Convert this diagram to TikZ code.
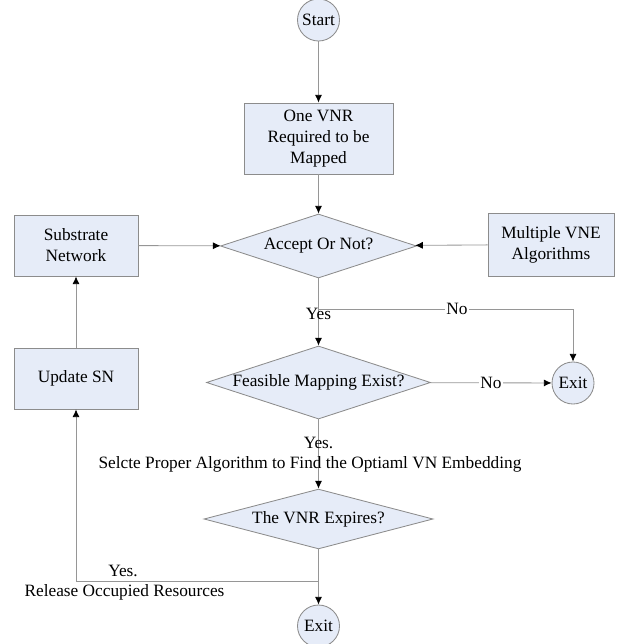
\documentclass[tikz,border=0pt]{standalone}
\usepackage{fontspec}
\setmainfont{Liberation Serif}
\usetikzlibrary{arrows.meta,shapes.geometric}

\definecolor{boxfill}{RGB}{230,236,248}
\definecolor{boxline}{RGB}{140,140,140}
\definecolor{wire}{RGB}{150,150,150}

\begin{document}
\begin{tikzpicture}[x=0.025cm, y=-0.025cm,
  >={Latex[length=5.5pt, width=5pt, color=black]},
  every node/.style={font=\fontsize{12.3}{14.9}\selectfont, inner sep=0pt},
  box/.style={draw=boxline, fill=boxfill, rectangle, align=center, line width=0.6pt},
  cond/.style={draw=boxline, fill=boxfill, diamond, aspect=3, line width=0.6pt},
  term/.style={draw=boxline, fill=boxfill, circle, minimum size=1.05cm, line width=0.6pt},
  wire/.style={draw=wire, line width=0.6pt},
  lbl/.style={fill=white, inner xsep=1pt}]
  \useasboundingbox (0,0) rectangle (625,644);

  \node[term] (s) at (318.5,20) {Start};
  \node[box, minimum width=3.725cm, minimum height=1.775cm] (vnr) at (318.5,138.5) {One VNR\\Required to be\\Mapped};
  \node[cond, minimum width=4.9cm, minimum height=1.6cm] (acc) at (318.5,246) {Accept Or Not?};
  \node[box, minimum width=3.1cm, minimum height=1.525cm] (sub) at (76,245.5) {Substrate\\Network};
  \node[box, minimum width=3.15cm, minimum height=1.575cm] (alg) at (551,244.5) {Multiple VNE\\Algorithms};
  \node[box, minimum width=3.1cm, minimum height=1.525cm] (upd) at (76,378.5) {Update SN};
  \node[cond, minimum width=5.6cm, minimum height=1.725cm] (fea) at (318.5,382.5) {Feasible Mapping Exist?};
  \node[term] (ex1) at (573,383) {Exit};
  \node[cond, minimum width=5.725cm, minimum height=1.45cm] (exp) at (318.5,519) {The VNR Expires?};
  \node[term] (ex2) at (318.5,626) {Exit};

  \coordinate (yn) at (318.5,309);
  \coordinate (rel) at (318.5,581);

  \draw[wire, ->] (s) -- (vnr);
  \draw[wire, ->] (vnr) -- (acc);
  \draw[wire, ->] (sub) -- (acc);
  \draw[wire, ->] (alg) -- (acc);
  \draw[wire, ->] (acc) -- (fea);
  \draw[wire, ->] (yn) -| node[lbl, pos=0.272] (no1) {No} (ex1);
  \node (yes1) at (318.5,314) {Yes};
  \draw[wire, ->] (fea) -- node[lbl] (no2) {No} (ex1);
  \draw[wire, ->] (fea) -- (exp);
  \node (yes2) at (318.5,443) {Yes.};
  \node (sel) at (310,464) {Selcte Proper Algorithm to Find the Optiaml VN Embedding};
  \draw[wire, ->] (exp) -- (ex2);
  \draw[wire, ->] (rel) -| (upd);
  \node (yes3) at (123,571) {Yes.};
  \node (relres) at (124.5,592) {Release Occupied Resources};
  \draw[wire, ->] (upd) -- (sub);
\end{tikzpicture}
\end{document}
